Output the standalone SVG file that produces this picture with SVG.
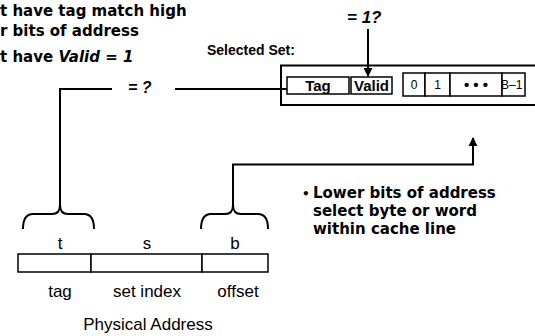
<svg xmlns="http://www.w3.org/2000/svg" width="535" height="336" viewBox="0 0 535 336">
  <style>
    .note { font-family: "DejaVu Sans", Verdana, sans-serif; font-weight: bold; font-size: 15px; fill: #000; }
    .lbl { font-family: "Liberation Sans", Arial, sans-serif; fill: #000; }
    .field { font-family: "Liberation Sans", Arial, sans-serif; font-size: 17px; fill: #000; text-anchor: middle; }
    .cell { font-family: "Liberation Sans", Arial, sans-serif; font-size: 12px; fill: #000; }
    .mid { text-anchor: middle; }
    .dots { font-size: 15px; font-weight: bold; }
    .bold { font-weight: bold; }
    .it { font-style: italic; }
    .box { fill: #fff; stroke: #000; stroke-width: 1.5; }
    .wire { fill: none; stroke: #000; stroke-width: 2; }
  </style>
  <defs>
    <marker id="arrow" viewBox="0 0 10 10" refX="9" refY="5" markerWidth="9" markerHeight="10" markerUnits="userSpaceOnUse" orient="auto">
      <path d="M0,0 L10,5 L0,10 z" fill="#000"/>
    </marker>
  </defs>
  <rect width="535" height="336" fill="#fff"/>

  <!-- conditions for a hit -->
  <g id="notes">
    <text class="note" x="0" y="16">t have tag match high</text>
    <text class="note" x="0" y="36">r bits of address</text>
    <text class="note" x="0" y="62">t have <tspan class="it">Valid = 1</tspan></text>
  </g>

  <!-- the set chosen by the index bits -->
  <g id="selected-set">
    <text class="lbl bold" x="207" y="55" font-size="14">Selected Set:</text>
    <path class="wire" d="M535,65.5 H281 V105 H535"/>
    <rect class="box" x="287" y="77" width="62" height="17"/>
    <text class="lbl bold mid" x="318" y="91" font-size="15">Tag</text>
    <rect class="box" x="351" y="77" width="41" height="17"/>
    <text class="lbl bold mid" x="371.5" y="91" font-size="15">Valid</text>
    <rect class="box" x="403" y="73" width="22" height="23"/>
    <rect class="box" x="425" y="73" width="25" height="23"/>
    <rect class="box" x="450" y="73" width="52" height="23"/>
    <rect class="box" x="502" y="73" width="23" height="23"/>
    <text class="cell mid" x="414" y="89">0</text>
    <text class="cell mid" x="437.5" y="89">1</text>
    <text class="cell mid dots" x="476" y="90">• • •</text>
    <text class="cell" x="501" y="89">B–1</text>
  </g>

  <!-- comparison labels -->
  <g id="valid-check">
    <text class="lbl bold it" x="347" y="23" font-size="17">= 1?</text>
  </g>
  <g id="tag-check">
    <text class="lbl bold it" x="128" y="93" font-size="16">= ?</text>
  </g>

  <!-- fields of the physical address -->
  <g id="address">
    <rect class="box" x="18" y="254" width="73" height="18"/>
    <rect class="box" x="91" y="254" width="111" height="18"/>
    <rect class="box" x="202" y="254" width="66" height="18"/>
    <text class="field" x="60" y="249">t</text>
    <text class="field" x="147" y="249">s</text>
    <text class="field" x="235" y="249">b</text>
    <text class="field" x="60" y="297">tag</text>
    <text class="field" x="147" y="297">set index</text>
    <text class="field" x="238" y="297">offset</text>
    <text class="field" x="148" y="330">Physical Address</text>
  </g>

  <!-- offset explanation -->
  <g id="offset-note">
    <text class="note" x="302" y="198"><tspan style="font-size:12px">•</tspan><tspan x="313">Lower bits of address</tspan></text>
    <text class="note" x="313" y="216">select byte or word</text>
    <text class="note" x="313" y="234">within cache line</text>
  </g>

  <!-- braces and connectors -->
  <g id="connectors">
    <path class="wire" d="M23,229 Q23,214 33,214 H52 Q60,214 60,205 Q60,214 68,214 H84 Q94,214 94,229"/>
    <path class="wire" d="M201,229 Q201,214 211,214 H225 Q233,214 233,205 Q233,214 241,214 H258 Q268,214 268,229"/>
    <path class="wire" d="M60,205 V89 H112"/>
    <path class="wire" d="M175,89 H287"/>
    <path class="wire" d="M233,205 V164.5 H473 V138" marker-end="url(#arrow)"/>
    <path class="wire" d="M368,29 V76" marker-end="url(#arrow)"/>
  </g>
</svg>
